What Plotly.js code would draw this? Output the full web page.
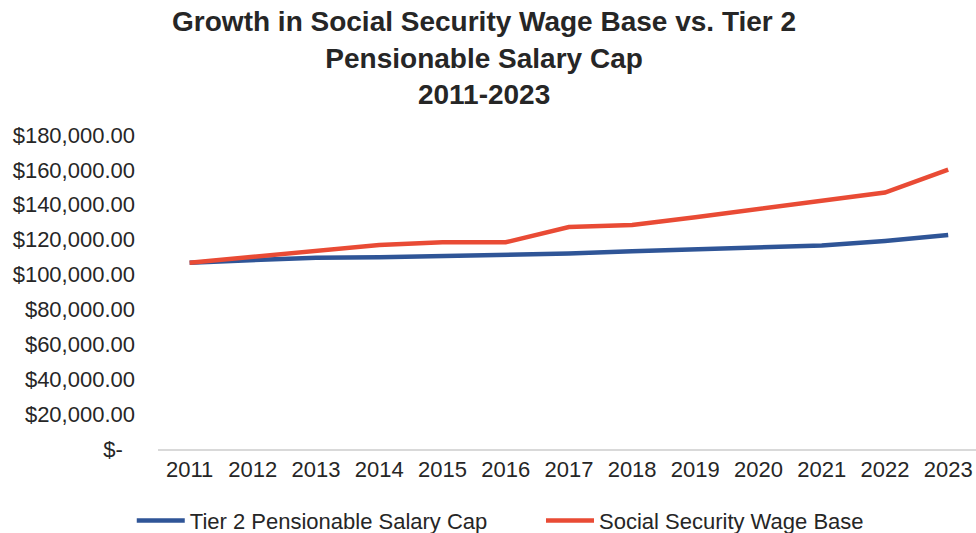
<!DOCTYPE html>
<html>
<head>
<meta charset="utf-8">
<script src="https://cdn.plot.ly/plotly-3.0.1.min.js"></script>
<style>html,body{margin:0;padding:0;background:#fff;}#chart{width:976px;height:533px;}</style>
</head>
<body>
<div id="chart"></div>
<script>
const years = ["2011","2012","2013","2014","2015","2016","2017","2018","2019","2020","2021","2022","2023"];
const tier2Cap = [106800, 108100, 109700, 109900, 110600, 111000, 112100, 113400, 114600, 115400, 116700, 119300, 122700];
const ssWageBase = [106800, 110100, 113700, 117000, 118500, 118500, 127200, 128400, 132900, 137700, 142800, 147000, 160200];
const yTickVals = [0, 20000, 40000, 60000, 80000, 100000, 120000, 140000, 160000, 180000];
const yTickText = ["$-\u00a0\u00a0", "$20,000.00", "$40,000.00", "$60,000.00", "$80,000.00", "$100,000.00", "$120,000.00", "$140,000.00", "$160,000.00", "$180,000.00"];

const font = "Liberation Sans, Arial, sans-serif";
const traces = [
  {x: years, y: tier2Cap, type: "scatter", mode: "lines", name: "Tier 2 Pensionable Salary Cap",
   line: {color: "#2F5597", width: 4.5}, legend: "legend"},
  {x: years, y: ssWageBase, type: "scatter", mode: "lines", name: "Social Security Wage Base",
   line: {color: "#E94B35", width: 4.5}, legend: "legend2"}
];
const legendBase = {orientation: "h", xanchor: "left", y: 0.023, yanchor: "middle",
  xref: "container", yref: "container", font: {family: font, size: 22, color: "#262626"},
  itemwidth: 48, bgcolor: "rgba(0,0,0,0)"};
const layout = {
  width: 976, height: 533,
  margin: {l: 158, r: 0, t: 135, b: 84},
  paper_bgcolor: "#fff", plot_bgcolor: "#fff",
  font: {family: font, color: "#404040", size: 22},
  title: {text: "<b>Growth in Social Security Wage Base vs. Tier 2<br>Pensionable Salary Cap<br>2011-2023</b>",
          font: {family: font, size: 28, color: "#262626"}, x: 0.496, xanchor: "center",
          yref: "container", y: 0.941, yanchor: "top"},
  xaxis: {type: "category", range: [-0.5, 12.44], showgrid: false, zeroline: false,
          showline: true, linecolor: "#d9d9d9", linewidth: 1.5, ticks: "",
          tickfont: {family: font, size: 22, color: "#262626"}, fixedrange: true},
  yaxis: {range: [0, 180000], tickvals: yTickVals, ticktext: yTickText, showgrid: false,
          zeroline: false, showline: false, ticks: "", ticklabelstandoff: 22,
          tickfont: {family: font, size: 22, color: "#262626"}, fixedrange: true},
  showlegend: true,
  legend: Object.assign({}, legendBase, {x: 0.135}),
  legend2: Object.assign({}, legendBase, {x: 0.5543})
};
Plotly.newPlot("chart", traces, layout, {displayModeBar: false, staticPlot: true});
</script>
</body>
</html>
